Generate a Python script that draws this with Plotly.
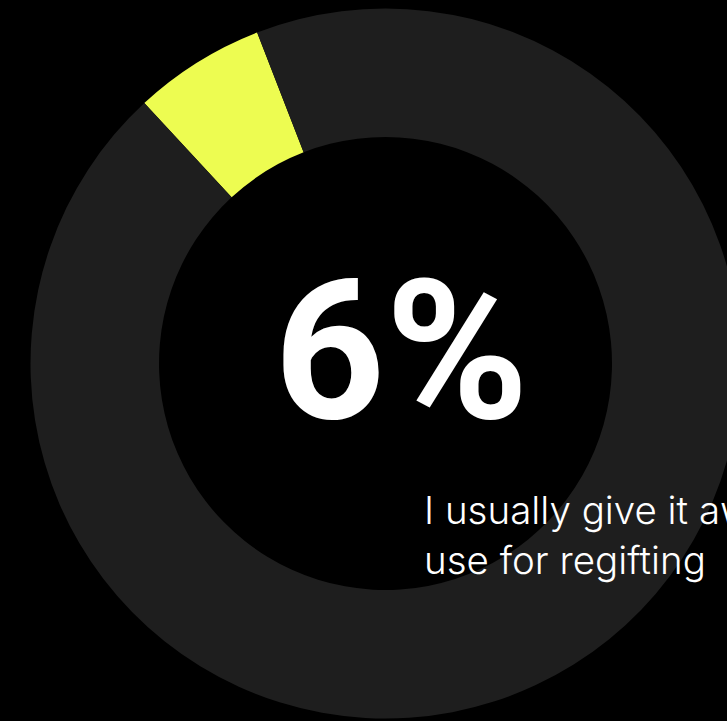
import plotly.graph_objects as go

# Survey answer shown in the donut
answer_label = "I usually give it away or use for regifting"
labels = [answer_label, "Other answers"]
values = [6, 94]
slice_colors = ["#edfc51", "#1e1e1e"]
headline = "6%"
caption_lines = ["I usually give it away or", "use for regifting"]

# Canvas is slightly wider than the viewport so the ring runs off the right edge
W, H = 750, 721
cx, cy, r_out, r_in = 385.5, 363.5, 355.0, 226.5

fig = go.Figure(
    go.Pie(
        labels=labels,
        values=values,
        hole=r_in / r_out,
        sort=False,
        direction="clockwise",
        rotation=-42.8,
        marker=dict(colors=slice_colors, line=dict(width=0)),
        textinfo="none",
        hoverinfo="skip",
        domain=dict(
            x=[(cx - r_out) / W, (cx + r_out) / W],
            y=[(H - cy - r_out) / H, (H - cy + r_out) / H],
        ),
    )
)

fig.add_annotation(
    text=headline,
    xref="paper", yref="paper",
    x=272 / W, y=(H - 351) / H,
    xanchor="left", yanchor="middle",
    showarrow=False,
    font=dict(family="Roboto", size=194, color="#ffffff", weight=700),
)

fig.add_annotation(
    text="<br>".join(caption_lines),
    xref="paper", yref="paper",
    x=422 / W, y=(H - 535) / H,
    xanchor="left", yanchor="middle", align="left",
    showarrow=False,
    font=dict(family="Inter", size=38.5, color="#ffffff", weight=300),
)

fig.update_layout(
    width=W, height=H,
    margin=dict(l=0, r=0, t=0, b=0),
    paper_bgcolor="#000000",
    plot_bgcolor="#000000",
    showlegend=False,
)

fig.write_html(
    "out.html",
    post_script="document.body.style.margin='0';document.body.style.overflow='hidden';",
)
